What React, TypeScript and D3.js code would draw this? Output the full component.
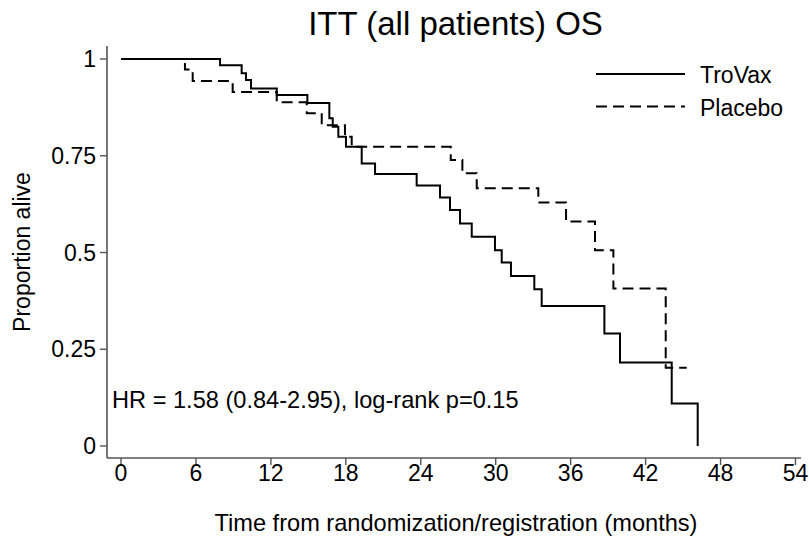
import React from "react";
import * as d3 from "d3";

const trovaxTimes = [0, 7.93, 9.66, 10.01, 10.41, 12.47, 14.92, 16.68, 16.95, 17.4, 18.01, 19.27, 20.34, 23.67, 25.54, 26.34, 27.14, 28.08, 29.94, 30.48, 31.22, 33.09, 33.68, 38.7, 39.95, 44.09, 46.17];
const trovaxSurv = [1, 0.984, 0.963, 0.946, 0.924, 0.907, 0.886, 0.847, 0.825, 0.799, 0.773, 0.73, 0.703, 0.673, 0.642, 0.61, 0.575, 0.541, 0.506, 0.474, 0.439, 0.405, 0.362, 0.291, 0.216, 0.11, 0];

const placeboTimes = [0, 5.12, 5.74, 8.94, 12.47, 14.87, 16.07, 17.93, 18.47, 26.4, 27.33, 28.48, 33.41, 35.63, 37.95, 39.42, 43.61, 45.29];
const placeboSurv = [1, 0.973, 0.943, 0.915, 0.888, 0.86, 0.829, 0.799, 0.773, 0.739, 0.705, 0.666, 0.629, 0.58, 0.506, 0.407, 0.202, 0.202];

const xTicks = [0, 6, 12, 18, 24, 30, 36, 42, 48, 54];
const yTicks = [0, 0.25, 0.5, 0.75, 1];
const yTickLabels = ["0", "0.25", "0.5", "0.75", "1"];
const seriesNames = ["TroVax", "Placebo"];
const titleText = "ITT (all patients) OS";
const xLabel = "Time from randomization/registration (months)";
const yLabel = "Proportion alive";
const noteText = "HR = 1.58 (0.84-2.95), log-rank p=0.15";

const FONT = "'Liberation Sans', Arial, sans-serif";

export default function App() {
  const x = d3.scaleLinear().domain([0, 54]).range([121, 795.5]);
  const y = d3.scaleLinear().domain([0, 1]).range([446, 59]);
  const line = d3
    .line<[number, number]>()
    .x((d) => x(d[0]))
    .y((d) => y(d[1]))
    .curve(d3.curveStepAfter);
  const trovax: [number, number][] = trovaxTimes.map((t, i) => [t, trovaxSurv[i]]);
  const placebo: [number, number][] = placeboTimes.map((t, i) => [t, placeboSurv[i]]);

  const axisColor = "#555";
  const axisLeft = 107;
  const axisBottom = 458;
  const axisTop = 46;
  const axisRight = 801;

  return (
    <svg
      width={809}
      height={547}
      style={{ position: "absolute", left: 0, top: 0, background: "#fff" }}
      fontFamily={FONT}
    >
      <rect x={0} y={0} width={809} height={547} fill="#fff" />
      <text x={455.5} y={35} fontSize={33} textAnchor="middle" fill="#000">
        {titleText}
      </text>

      {/* axes */}
      <line x1={axisLeft} x2={axisLeft} y1={axisTop} y2={axisBottom} stroke={axisColor} strokeWidth={1.6} />
      <line x1={axisLeft} x2={axisRight} y1={axisBottom} y2={axisBottom} stroke={axisColor} strokeWidth={1.6} />

      {yTicks.map((v, i) => (
        <g key={"y" + v}>
          <line x1={axisLeft - 7} x2={axisLeft} y1={y(v)} y2={y(v)} stroke={axisColor} strokeWidth={1.4} />
          <text x={96} y={y(v) + 8} fontSize={23} textAnchor="end" fill="#000">
            {yTickLabels[i]}
          </text>
        </g>
      ))}
      {xTicks.map((v) => (
        <g key={"x" + v}>
          <line x1={x(v)} x2={x(v)} y1={axisBottom} y2={axisBottom + 7} stroke={axisColor} strokeWidth={1.4} />
          <text x={x(v)} y={481} fontSize={23} textAnchor="middle" fill="#000">
            {v}
          </text>
        </g>
      ))}

      <text x={456} y={531} fontSize={23.6} textAnchor="middle" fill="#000">
        {xLabel}
      </text>
      <text
        transform={`translate(30,252) rotate(-90)`}
        fontSize={23}
        textAnchor="middle"
        fill="#000"
      >
        {yLabel}
      </text>

      {/* curves */}
      <path d={line(placebo) || ""} fill="none" stroke="#000" strokeWidth={2} strokeDasharray="11,6" />
      <path d={line(trovax) || ""} fill="none" stroke="#000" strokeWidth={2} />

      {/* legend */}
      <line x1={596} x2={685} y1={74} y2={74} stroke="#000" strokeWidth={2} />
      <text x={700} y={83} fontSize={23} fill="#000">
        {seriesNames[0]}
      </text>
      <line x1={596} x2={685} y1={106.5} y2={106.5} stroke="#000" strokeWidth={2} strokeDasharray="11,6" />
      <text x={700} y={116} fontSize={23} fill="#000">
        {seriesNames[1]}
      </text>

      <text x={112} y={408} fontSize={23.6} fill="#000">
        {noteText}
      </text>
    </svg>
  );
}
